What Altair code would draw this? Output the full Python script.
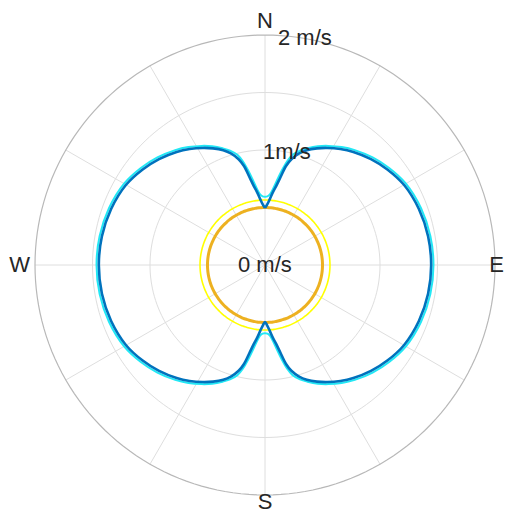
import altair as alt
import pandas as pd

# Angles in degrees, clockwise from North, for one quadrant (curves are mirror-symmetric)
q_angles = [0, 2, 4, 6, 8, 10, 12, 14, 17, 20, 24, 28, 33, 38, 45, 52, 60, 70, 80, 90]
# Radii (m/s)
blue_q = [0.496, 0.525, 0.570, 0.631, 0.69, 0.775, 0.88, 0.948, 1.015, 1.062,
          1.11, 1.153, 1.203, 1.248, 1.303, 1.35, 1.395, 1.424, 1.44, 1.445]
cyan_q = [0.594, 0.597, 0.615, 0.665, 0.74, 0.83, 0.92, 0.985, 1.04, 1.08,
          1.13, 1.173, 1.223, 1.268, 1.323, 1.37, 1.415, 1.444, 1.46, 1.465]
orange_r = 0.50
yellow_r = 0.565
grid_r = [0.5, 1.0, 1.5]
outer_r = 2.0
spoke_angles = list(range(0, 360, 30))
compass = ["N", "E", "S", "W"]
compass_angles = [0, 90, 180, 270]
ring_labels = ["0 m/s", "1m/s", "2 m/s"]
ring_label_r = [0, 1, 2]


def full_loop(q):
    pts = list(zip(q_angles, q))
    seq = list(pts)
    seq += [(180 - a, r) for a, r in reversed(pts[:-1])]
    seq += [(180 + a, r) for a, r in pts[1:]]
    seq += [(360 - a, r) for a, r in reversed(pts[:-1])]
    return seq


rows = []
for name, q in [("blue", blue_q), ("cyan", cyan_q)]:
    for i, (a, r) in enumerate(full_loop(q)):
        rows.append({"series": name, "order": i, "angle": a, "r": r})
circ_angles = list(range(0, 361, 2))
for name, rad in [("orange", orange_r), ("yellow", yellow_r)]:
    for i, a in enumerate(circ_angles):
        rows.append({"series": name, "order": i, "angle": a, "r": rad})
curves = pd.DataFrame(rows)

grid_rows = []
for rad in grid_r + [outer_r]:
    for i, a in enumerate(circ_angles):
        grid_rows.append({"ring": rad, "order": i, "angle": a, "r": rad,
                          "outer": rad == outer_r})
grid = pd.DataFrame(grid_rows)

spokes = pd.DataFrame({"angle": spoke_angles})
comp = pd.DataFrame({"label": compass, "angle": compass_angles})
rlab = pd.DataFrame({"label": ring_labels, "r": ring_label_r})

sc = alt.Scale(domain=[-2, 2], nice=False, zero=False)
X = alt.X("x:Q", scale=sc, axis=None)
Y = alt.Y("y:Q", scale=sc, axis=None)

polar = dict(x="datum.r*sin(datum.angle*PI/180)", y="datum.r*cos(datum.angle*PI/180)")


def curve_layer(df, name, color, width):
    return alt.Chart(df).transform_filter(f"datum.series == '{name}'").transform_calculate(**polar).mark_line(
        color=color, strokeWidth=width, interpolate="catmull-rom"
    ).encode(x=X, y=Y, order="order:Q")


inner_grid = alt.Chart(grid).transform_filter("!datum.outer").transform_calculate(**polar).mark_line(
    color="#dedede", strokeWidth=1
).encode(x=X, y=Y, detail="ring:N", order="order:Q")
outer_grid = alt.Chart(grid).transform_filter("datum.outer").transform_calculate(**polar).mark_line(
    color="#b8b8b8", strokeWidth=1.2
).encode(x=X, y=Y, detail="ring:N", order="order:Q")

spoke_layer = alt.Chart(spokes).transform_calculate(
    x0="0", y0="0",
    x2=f"{outer_r}*sin(datum.angle*PI/180)", y2=f"{outer_r}*cos(datum.angle*PI/180)"
).mark_rule(color="#dedede", strokeWidth=1).encode(
    x=alt.X("x0:Q", scale=sc, axis=None), y=alt.Y("y0:Q", scale=sc, axis=None),
    x2="x2:Q", y2="y2:Q"
)

font = dict(font="Liberation Sans", fontSize=22, color="#262626")


def comp_layer(lbl, **kw):
    return alt.Chart(comp).transform_filter(f"datum.label == '{lbl}'").transform_calculate(
        r=f"{outer_r}", **polar
    ).mark_text(**font, **kw).encode(x=X, y=Y, text="label:N")


n_l = comp_layer("N", align="center", baseline="middle", dy=-14)
s_l = comp_layer("S", align="center", baseline="middle", dy=7)
w_l = comp_layer("W", align="right", baseline="middle", dx=-5)
e_l = comp_layer("E", align="right", baseline="middle", dx=9)


def ring_label(lbl, dx, dy):
    return alt.Chart(rlab).transform_filter(f"datum.label == '{lbl}'").transform_calculate(
        angle="0", **polar
    ).mark_text(**font, align="left", baseline="middle", dx=dx, dy=dy).encode(x=X, y=Y, text="label:N")


r0 = ring_label("0 m/s", -27, 0)
r1 = ring_label("1m/s", -2, 2)
r2 = ring_label("2 m/s", 13, 3)

chart = alt.layer(
    inner_grid, spoke_layer, outer_grid,
    curve_layer(curves, "yellow", "#FFFF00", 1.6),
    curve_layer(curves, "orange", "#EDB120", 3),
    curve_layer(curves, "cyan", "#22E8F5", 2),
    curve_layer(curves, "blue", "#0072BD", 2.6),
    n_l, s_l, w_l, e_l, r0, r1, r2,
).properties(
    width=460, height=460,
    autosize=alt.AutoSizeParams(type="none"),
    padding={"left": 27, "top": 27, "right": 11, "bottom": 19},
).configure_view(stroke=None)

chart.save("out.html", embed_options={"renderer": "svg", "actions": False})
